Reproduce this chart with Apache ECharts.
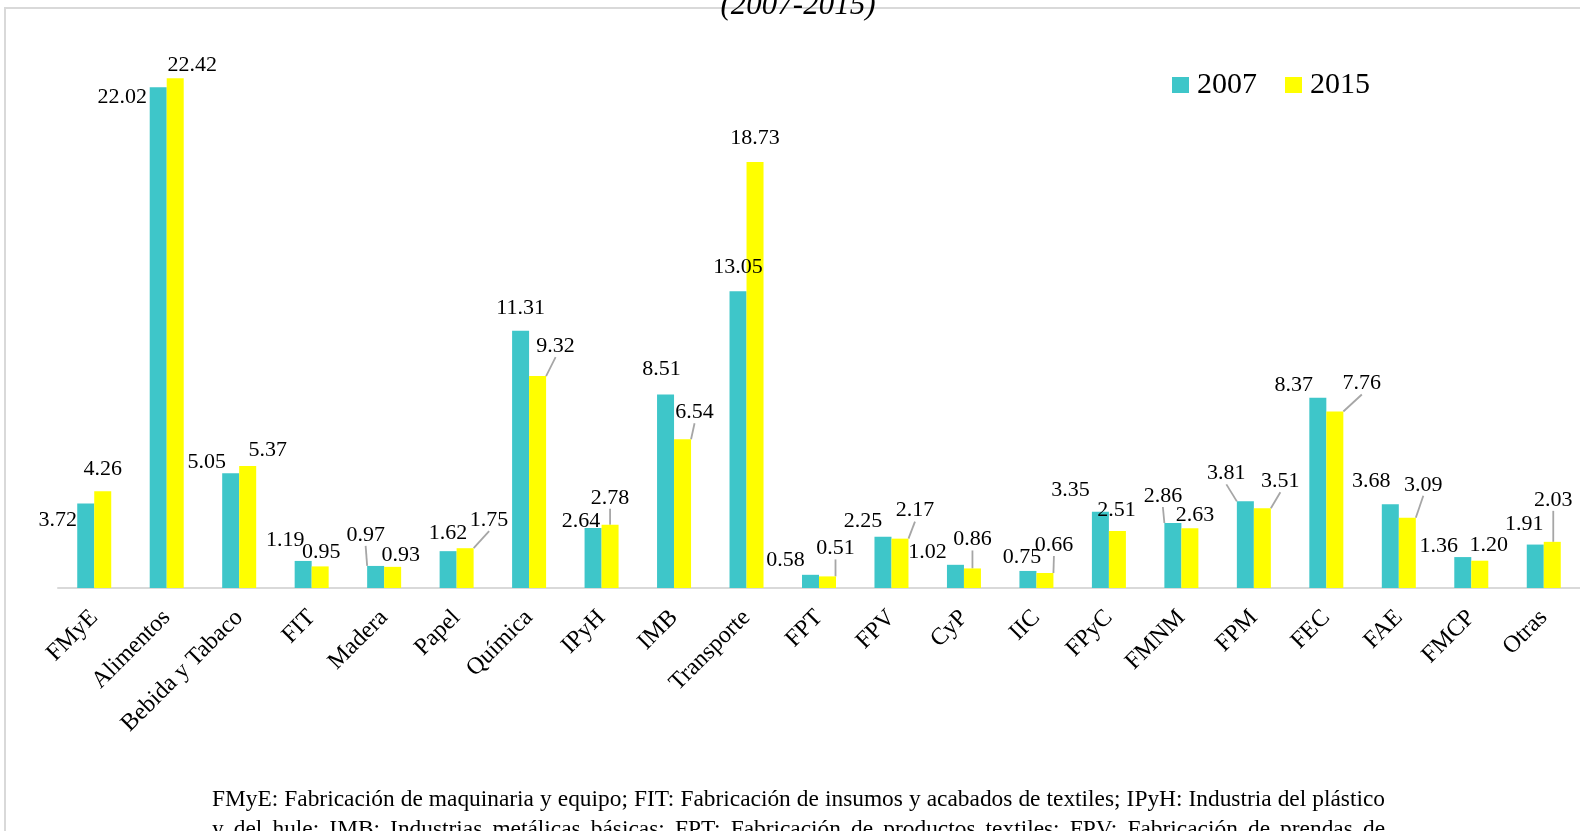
<!DOCTYPE html>
<html>
<head>
<meta charset="utf-8">
<title>(2007-2015)</title>
<style>
  html, body { margin: 0; padding: 0; background: #fff; }
  #main { width: 1580px; height: 831px; }
</style>
</head>
<body>
<div id="main"></div>
<script src="https://cdn.jsdelivr.net/npm/echarts@6/dist/echarts.min.js"></script>
<script>
const categories = ['FMyE', 'Alimentos', 'Bebida y Tabaco', 'FIT', 'Madera', 'Papel', 'Química', 'IPyH', 'IMB', 'Transporte',
  'FPT', 'FPV', 'CyP', 'IIC', 'FPyC', 'FMNM', 'FPM', 'FEC', 'FAE', 'FMCP', 'Otras']
const values2007 = [3.72, 22.02, 5.05, 1.19, 0.97, 1.62, 11.31, 2.64, 8.51, 13.05, 0.58, 2.25, 1.02, 0.75, 3.35, 2.86, 3.81, 8.37, 3.68, 1.36, 1.91]
const values2015 = [4.26, 22.42, 5.37, 0.95, 0.93, 1.75, 9.32, 2.78, 6.54, 18.73, 0.51, 2.17, 0.86, 0.66, 2.51, 2.63, 3.51, 7.76, 3.09, 1.20, 2.03]
const seriesNames = ['2007', '2015']
const titleText = '(2007-2015)'
const noteLines = [
  'FMyE: Fabricación de maquinaria y equipo; FIT: Fabricación de insumos y acabados de textiles; IPyH: Industria del plástico',
  'y del hule; IMB: Industrias metálicas básicas; FPT: Fabricación de productos textiles; FPV: Fabricación de prendas de'
]

// label placement (offset of label centre from top centre of its bar), like the excel layout
const labelShift2007 = [[-28, 17], [-36, 10], [-24, -11], [-18, -21], [-10, -31], [0, -18], [0, -23], [-12, -7], [-4, -25], [0, -24],
  [-25, -15], [-20, -16], [-28, -13], [-6, -14], [-30, -22], [-10, -27], [-19, -28], [-24, -12], [-19, -23], [-24, -11], [-11, -20]]
const labelShift2015 = [[0, -22], [17, -13], [20, -16], [1, -14], [8, -12], [24, -28], [18, -30], [0, -27], [12, -27], [0, -24],
  [8, -28], [15, -28], [0, -29], [9, -28], [-1, -21], [5, -13], [18, -27], [27, -28], [16, -33], [9, -15], [1, -42]]
// which labels get a leader line
const leader2007 = [4, 15, 16]
const leader2015 = [5, 6, 7, 8, 10, 11, 12, 13, 16, 17, 18, 20]

const serif = "'Liberation Serif', 'Times New Roman', serif"
const colors = ['#3EC6C9', '#FFFF00']

const chart = echarts.init(document.getElementById('main'))

function buildData (values, leaders) {
  return values.map((v, i) => leaders.indexOf(i) >= 0 ? { value: v, labelLine: { show: true } } : v)
}

function makeSeries (name, values, leaders, shift, color) {
  return {
    name: name,
    type: 'bar',
    barWidth: 17,
    barGap: '0%',
    itemStyle: { color: color },
    data: buildData(values, leaders),
    label: {
      show: true,
      position: 'top',
      color: '#000',
      fontSize: 22,
      fontFamily: serif,
      formatter: p => Number(p.value).toFixed(2)
    },
    labelLine: {
      show: false,
      lineStyle: { color: '#a6a6a6', width: 1.8 }
    },
    labelLayout: function (params) {
      const s = shift[params.dataIndex]
      return {
        x: params.rect.x + params.rect.width / 2 + s[0],
        y: params.rect.y + s[1],
        align: 'center',
        verticalAlign: 'middle'
      }
    }
  }
}

// footnote: first line sets the font size, both lines justified word by word
const measure = document.createElement('canvas').getContext('2d')
function textWidth (text, fontSize) {
  measure.font = fontSize + 'px ' + serif
  return measure.measureText(text).width
}
const noteLeft = 212
const noteRight = 1385
const noteSize = Math.min(26, 24 * (noteRight - noteLeft) / (textWidth(noteLines[0], 24) + 3))

function justify (text, x0, x1, baseline, fontSize) {
  const words = text.split(' ')
  const widths = words.map(w => textWidth(w, fontSize))
  const total = widths.reduce((a, b) => a + b, 0)
  const gap = (x1 - x0 - total) / (words.length - 1)
  let x = x0
  return words.map((w, i) => {
    const el = {
      type: 'text',
      x: x,
      y: baseline - 0.34 * fontSize,
      silent: true,
      style: { text: w, fontSize: fontSize, fontFamily: serif, fill: '#000', verticalAlign: 'middle' }
    }
    x += widths[i] + gap
    return el
  })
}

const graphics = [
  {
    type: 'rect',
    silent: true,
    z: -1,
    shape: { x: 5, y: 8, width: 1600, height: 900 },
    style: { fill: 'none', stroke: '#d9d9d9', lineWidth: 2 }
  },
  {
    type: 'text',
    x: 798,
    y: 6,
    silent: true,
    style: {
      text: titleText,
      fontSize: 31,
      fontStyle: 'italic',
      fontFamily: serif,
      fill: '#000',
      align: 'center',
      verticalAlign: 'middle'
    }
  }
].concat(justify(noteLines[0], noteLeft, noteRight, 808, noteSize), justify(noteLines[1], noteLeft, noteRight, 838, noteSize))

chart.setOption({
  animation: false,
  color: colors,
  legend: {
    data: seriesNames,
    left: 1172,
    top: 70,
    padding: 0,
    icon: 'rect',
    itemWidth: 17,
    itemHeight: 16,
    itemGap: 28,
    textStyle: { fontSize: 30, fontFamily: serif, color: '#000', padding: [0, 0, 0, 3] }
  },
  grid: {
    left: 58,
    top: 19.5,
    width: 1527,
    height: 568.5
  },
  xAxis: {
    type: 'category',
    data: categories,
    axisTick: { show: false },
    axisLine: { lineStyle: { color: '#d9d9d9', width: 2 } },
    axisLabel: {
      interval: 0,
      rotate: 45,
      margin: 26,
      fontSize: 24,
      fontFamily: serif,
      color: '#000'
    }
  },
  yAxis: {
    type: 'value',
    min: 0,
    max: 25,
    show: false
  },
  series: [
    makeSeries(seriesNames[0], values2007, leader2007, labelShift2007, colors[0]),
    makeSeries(seriesNames[1], values2015, leader2015, labelShift2015, colors[1])
  ],
  graphic: graphics
})
</script>
</body>
</html>
